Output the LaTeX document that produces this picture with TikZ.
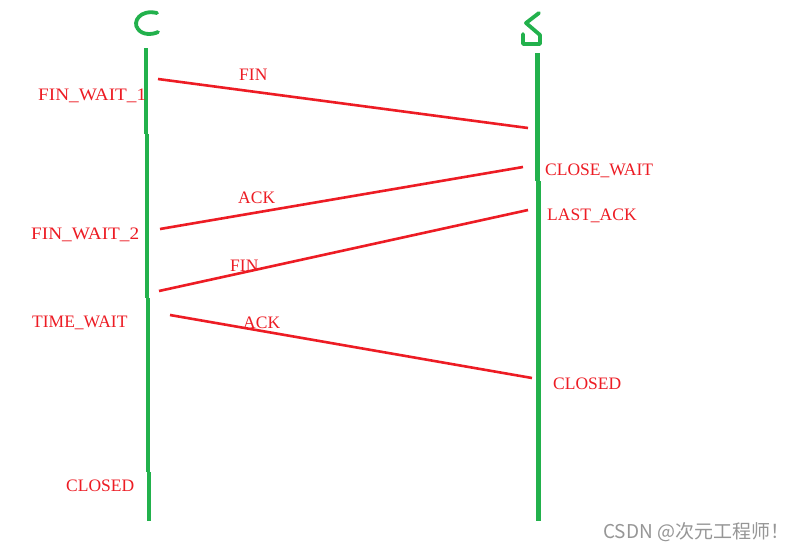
\documentclass[tikz,border=0pt]{standalone}
\usepackage{fontspec}
\setmainfont{Liberation Serif}
\newfontfamily\cjkfont{Noto Sans CJK SC}
\definecolor{pgreen}{RGB}{34,177,76}
\definecolor{pred}{RGB}{237,28,36}
\definecolor{wmgray}{RGB}{150,150,150}
\begin{document}
\begin{tikzpicture}[x=1pt,y=-1pt,
  lifeline/.style={draw=pgreen,line width=4.5pt},
  letter/.style={draw=pgreen,line width=3.8pt,line cap=round,line join=round},
  msg/.style={draw=pred,line width=2.6pt},
  lbl/.style={text=pred,font=\fontsize{17.5}{20}\selectfont,inner sep=0pt,anchor=base west},
  wide/.style={xscale=1.1},
  wm/.style={text=wmgray,font=\cjkfont\fontsize{19}{22}\selectfont,inner sep=0pt,anchor=base west}]
\useasboundingbox (0,0) rectangle (802,552);
\fill[white] (0,0) rectangle (802,552);
% letters C and S
\draw[letter] (157,13) .. controls (140,9) and (132,22) .. (138,29) .. controls (142,35) and (152,35) .. (158,32);
\draw[letter] (539,13) -- (526,23) -- (540,35) -- (540,44) -- (523,44) -- (523,34);
% client lifeline
\coordinate (c0) at (146,48);
\coordinate (c1) at (146,134);
\coordinate (c2) at (147,134);
\coordinate (c3) at (147,298);
\coordinate (c4) at (148,298);
\coordinate (c5) at (148,472);
\coordinate (c6) at (149,472);
\coordinate (c7) at (149,521);
\draw[lifeline] (c0) -- (c1);
\draw[lifeline] (c2) -- (c3);
\draw[lifeline] (c4) -- (c5);
\draw[lifeline] (c6) -- (c7);
% server lifeline
\coordinate (s0) at (537.5,53);
\coordinate (s1) at (537.5,181);
\coordinate (s2) at (538.5,181);
\coordinate (s3) at (538.5,521);
\draw[lifeline] (s0) -- (s1);
\draw[lifeline] (s2) -- (s3);
% messages
\coordinate (m1a) at (158,79);
\coordinate (m1b) at (528,128);
\coordinate (m2a) at (523,167);
\coordinate (m2b) at (160,229);
\coordinate (m3a) at (528,210);
\coordinate (m3b) at (159,291);
\coordinate (m4a) at (170,315);
\coordinate (m4b) at (532,378);
\draw[msg] (m1a) -- (m1b);
\draw[msg] (m2a) -- (m2b);
\draw[msg] (m3a) -- (m3b);
\draw[msg] (m4a) -- (m4b);
% labels
\node[lbl] (fin1) at (239,80) {FIN};
\node[lbl] (ack1) at (238,203) {ACK};
\node[lbl] (fin2) at (230,271) {FIN};
\node[lbl] (ack2) at (243,328) {ACK};
\node[lbl,wide] (fw1) at (38,100) {FIN\_WAIT\_1};
\node[lbl,wide] (fw2) at (31,239) {FIN\_WAIT\_2};
\node[lbl] (tw) at (32,327) {TIME\_WAIT};
\node[lbl] (cl1) at (66,491) {CLOSED};
\node[lbl] (cw) at (545,175) {CLOSE\_WAIT};
\node[lbl] (la) at (547,220) {LAST\_ACK};
\node[lbl] (cl2) at (553,389) {CLOSED};
\node[wm] (wmk) at (603,538) {CSDN @次元工程师！};
\end{tikzpicture}
\end{document}
